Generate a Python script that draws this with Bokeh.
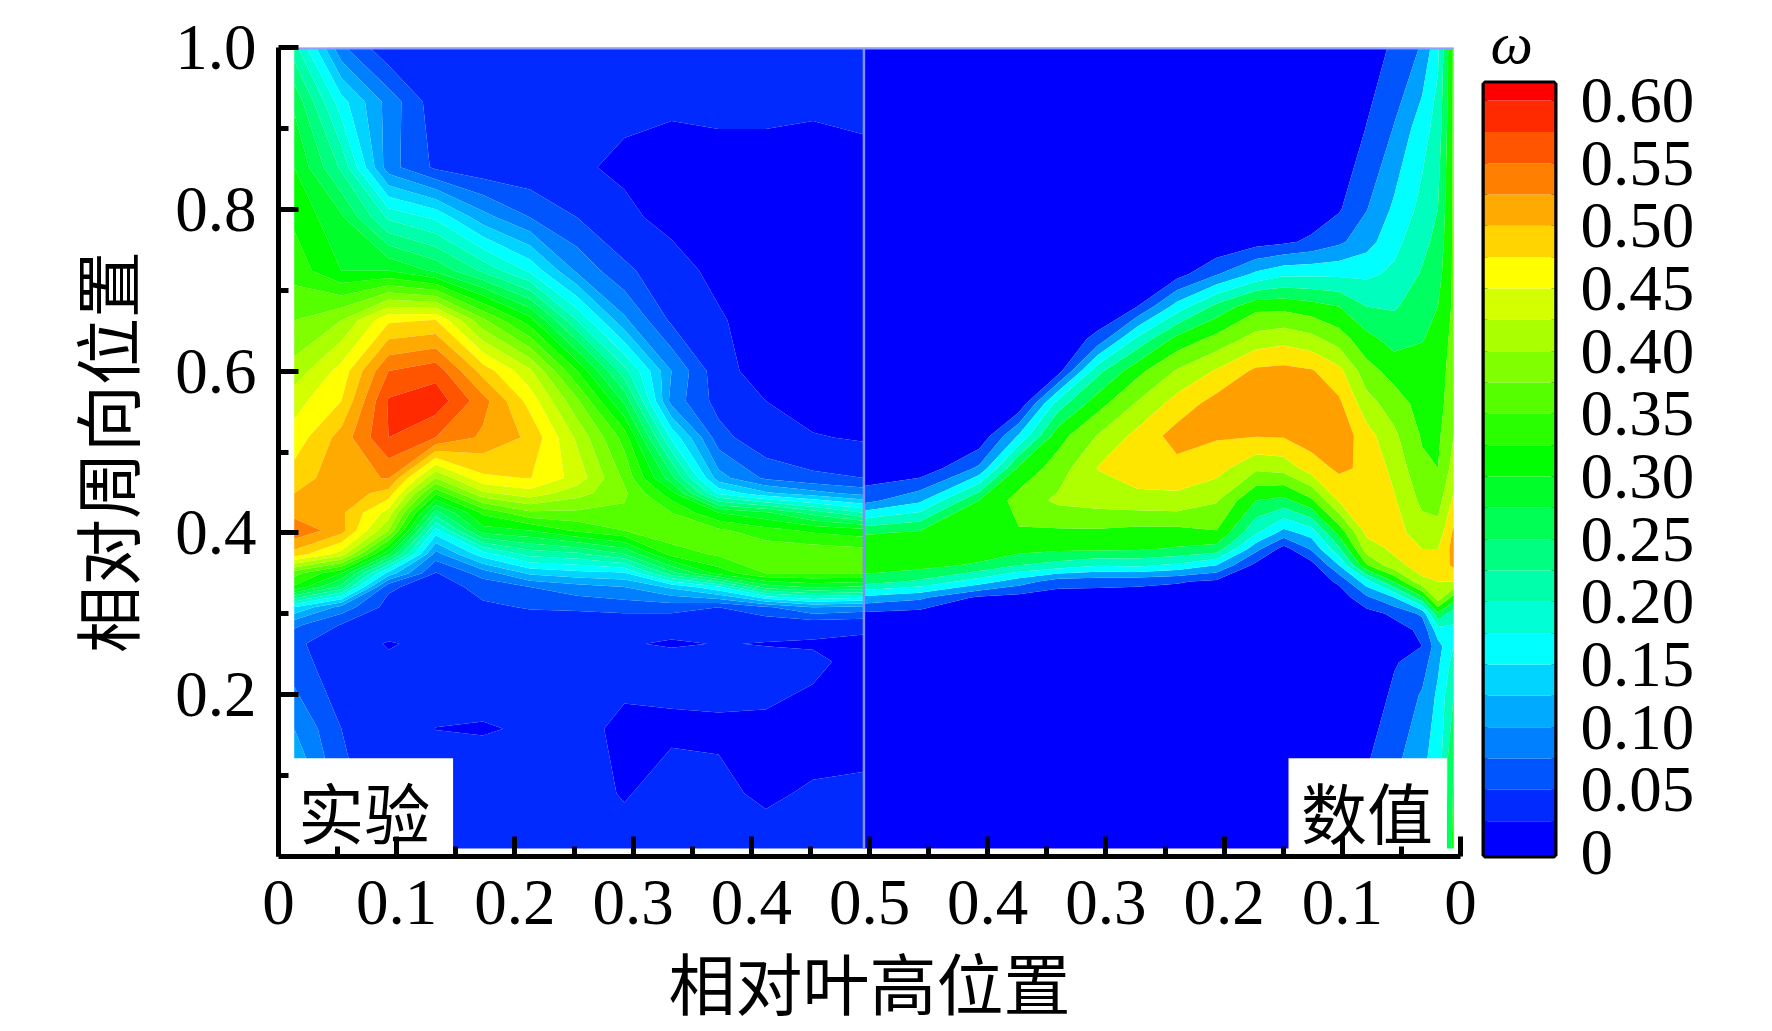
from bokeh.plotting import figure
from bokeh.layouts import row, column
from bokeh.models import FixedTicker, Range1d, Title
from bokeh.core.properties import value
from bokeh.embed import file_html
from bokeh.resources import INLINE
import numpy as np

# ---- experiment half (left) ----
exp_x = [.0133,.0532,.0931,.133,.173,.2128,.2527,.2926,.3325,.3724,.4123,.4522,.4953]
exp_y = [1.0,.933,.852,.79,.724,.663,.6,.563,.518,.468,.449,.425,.403,.374,.35,.333,.308,.286,.263,.241,.158,.078,.01]
exp_z = [
 [.21,.08,.03,.03,.03,.03,.03,.03,.03,.03,.03,.03,.03],
 [.27,.16,.09,.035,.03,.03,.03,.03,.03,.03,.03,.03,.03],
 [.30,.22,.085,.045,.032,.03,.028,.021,.013,.018,.018,.013,.02],
 [.32,.28,.195,.17,.11,.075,.05,.03,.018,.01,.008,.008,.008],
 [.34,.30,.30,.27,.22,.17,.095,.055,.035,.018,.01,.008,.008],
 [.375,.40,.47,.476,.38,.31,.20,.105,.045,.028,.012,.008,.008],
 [.41,.46,.55,.565,.49,.43,.325,.21,.10,.033,.015,.008,.008],
 [.44,.475,.578,.59,.535,.465,.38,.27,.09,.04,.025,.012,.01],
 [.46,.51,.575,.55,.52,.495,.42,.34,.17,.06,.03,.027,.022],
 [.487,.515,.527,.40,.47,.476,.44,.37,.26,.11,.07,.055,.05],
 [.50,.515,.49,.33,.42,.44,.41,.38,.31,.17,.13,.11,.09],
 [.515,.505,.44,.24,.33,.37,.37,.37,.35,.30,.28,.24,.20],
 [.545,.51,.40,.165,.29,.30,.33,.35,.37,.355,.335,.32,.31],
 [.49,.44,.28,.09,.165,.21,.22,.25,.335,.355,.37,.37,.365],
 [.36,.30,.14,.048,.085,.13,.14,.145,.24,.31,.35,.35,.35],
 [.32,.24,.055,.035,.06,.075,.09,.10,.13,.17,.26,.28,.27],
 [.15,.09,.04,.03,.045,.052,.055,.06,.06,.05,.07,.10,.09],
 [.08,.048,.035,.03,.03,.035,.03,.03,.03,.03,.03,.03,.028],
 [.055,.035,.0235,.03,.03,.03,.03,.0262,.0235,.0255,.0245,.0235,.022],
 [.06,.035,.028,.03,.03,.03,.03,.03,.03,.03,.028,.028,.02],
 [.10,.05,.03,.0249,.0244,.0258,.029,.022,.0229,.0234,.0238,.019,.015],
 [.15,.06,.03,.03,.03,.03,.03,.024,.03,.0274,.023,.0266,.03],
 [.18,.06,.03,.03,.03,.03,.03,.03,.03,.03,.03,.03,.03],
]
exp_levels = [0,.025,.05,.075,.1,.125,.15,.175,.2,.225,.25,.275,.3,.325,.35,.375,.4,.425,.45,.475,.5,.525,.55,.575,.6,.625]
exp_colors = ["#0000FF","#002AFF","#0055FF","#0080FF","#00AAFF","#00D4FF","#00FFFF","#00FFD4","#00FFAA","#00FF80","#00FF55","#00FF2A","#00FF00",
              "#2AFF00","#55FF00","#80FF00","#AAFF00","#D4FF00","#FFFF00","#FFD400","#FFAA00","#FF8000","#FF5500","#FF2A00","#FF0000"]

# ---- numerical half (right) ----
num_x = [.4953,.5426,.5928,.6262,.6597,.6931,.7266,.76,.7935,.827,.8504,.8738,.8972,.9206,.944,.9675,.9809,.9943]
num_y = [1.0,.9,.8,.76,.72,.68,.64,.6,.56,.52,.48,.44,.40,.38,.36,.34,.32,.30,.28,.26,.24,.2,.12,.01]
num_z = [
 [0,0,0,0,0,0,0,0,0,0,0,0,.005,.02,.06,.105,.19,.36],
 [0,0,0,0,0,0,0,0,0,0,0,.005,.01,.052,.103,.18,.22,.36],
 [0,0,0,0,0,0,0,0,0,.005,.01,.015,.045,.098,.16,.215,.25,.36],
 [0,0,0,0,0,0,0,.005,.005,.03,.04,.06,.09,.13,.185,.235,.265,.36],
 [0,0,0,0,0,0,.005,.03,.095,.16,.19,.19,.19,.19,.21,.255,.28,.36],
 [0,0,0,0,0,.005,.05,.17,.265,.335,.335,.32,.30,.25,.245,.275,.30,.36],
 [0,0,0,0,.01,.065,.21,.315,.365,.42,.433,.415,.375,.315,.28,.298,.31,.37],
 [0,0,0,0,.03,.235,.335,.405,.455,.51,.515,.505,.465,.37,.33,.315,.32,.38],
 [0,0,0,.01,.225,.33,.405,.47,.52,.535,.54,.54,.51,.42,.375,.33,.325,.39],
 [0,0,.01,.155,.33,.403,.465,.52,.505,.503,.505,.525,.535,.47,.41,.345,.34,.40],
 [.01,.012,.11,.31,.375,.452,.485,.485,.47,.41,.42,.475,.51,.49,.435,.36,.35,.42],
 [.083,.14,.30,.37,.41,.42,.43,.435,.405,.30,.285,.34,.455,.48,.455,.388,.38,.46],
 [.293,.31,.345,.345,.34,.34,.33,.33,.345,.205,.13,.17,.315,.46,.47,.425,.42,.51],
 [.345,.343,.34,.32,.31,.31,.305,.295,.28,.115,.03,.105,.24,.425,.46,.45,.45,.52],
 [.33,.32,.29,.25,.23,.205,.21,.19,.15,.035,.015,.03,.15,.345,.435,.47,.47,.51],
 [.275,.24,.175,.125,.075,.07,.065,.055,.04,.015,.01,.015,.06,.18,.305,.44,.45,.45],
 [.135,.11,.04,.03,.02,.02,.02,.02,.015,.01,.005,.01,.02,.09,.15,.29,.43,.33],
 [.04,.03,.005,.005,.005,.005,.005,.005,.005,.005,.005,.005,.01,.03,.06,.11,.29,.22],
 [.01,.005,0,0,0,0,0,0,0,0,0,0,.005,.01,.03,.06,.18,.19],
 [0,0,0,0,0,0,0,0,0,0,0,0,0,.005,.02,.05,.13,.2],
 [0,0,0,0,0,0,0,0,0,0,0,0,0,.005,.045,.075,.14,.22],
 [0,0,0,0,0,0,0,0,0,0,0,0,0,.01,.062,.105,.16,.25],
 [0,0,0,0,0,0,0,0,0,0,0,0,0,.045,.085,.14,.17,.30],
 [0,0,0,0,0,0,0,0,0,0,0,0,0,.045,.085,.14,.17,.32],
]
num_levels = [-.01,.05,.1,.15,.2,.25,.3,.35,.4,.45,.5,.55,.6]
num_colors = ["#0000FF","#0055FF","#00A0FF","#00FFFF","#00FFBF","#00FF60","#10FF00","#70FF00","#B0FF00","#FFE600","#FF9F00","#FF6000"]

# ---- axes and colour bar ----
x_ticks = [0,.1,.2,.3,.4,.5,.6,.7,.8,.9,1.0]
x_tick_labels = ["0","0.1","0.2","0.3","0.4","0.5","0.4","0.3","0.2","0.1","0"]
x_minor = [.05,.15,.25,.35,.45,.55,.65,.75,.85,.95]
y_ticks = [.2,.4,.6,.8,1.0]
y_tick_labels = ["0.2","0.4","0.6","0.8","1.0"]
y_minor = [.1,.3,.5,.7,.9]
cb_ticks = [0,.05,.1,.15,.2,.25,.3,.35,.4,.45,.5,.55,.6]
cb_tick_labels = ["0","0.05","0.10","0.15","0.20","0.25","0.30","0.35","0.40","0.45","0.50","0.55","0.60"]
x_title = "相对叶高位置"
y_title = "相对周向位置"
cb_title = "ω"

SERIF = "Liberation Serif"
CJK = "Noto Sans CJK SC"

p = figure(width=1480, height=1031, x_range=Range1d(0, 1), y_range=Range1d(0, 1),
           output_backend="svg", toolbar_location=None,
           min_border_left=278, min_border_right=20, min_border_top=47, min_border_bottom=175)
p.outline_line_color = None
p.grid.visible = False
p.background_fill_color = "white"

p.contour(exp_x, exp_y[::-1], np.array(exp_z)[::-1], exp_levels, fill_color=exp_colors, line_color=None)
p.contour(num_x, num_y[::-1], np.array(num_z)[::-1], num_levels, fill_color=num_colors, line_color=None)

# pale lines: divider and top edge
p.line([.4953, .4953], [.01, 1.0], line_color="#7F8FFF", line_width=2.5)
p.line([.0133, .9943], [.999, .999], line_color="#8FA0FF", line_width=2.5)

# white label boxes
p.quad(left=[.004, .8545], right=[.1477, .9885], bottom=[0, 0], top=[.1215, .1215],
       fill_color="white", line_color=None)
p.text(x=[.0725, .921], y=[.058, .058], text=["实验", "数值"], text_font=value(CJK),
       text_font_size="66px", text_align="center", text_baseline="middle", text_color="black")

for ax, tks, minor, labs in ((p.xaxis[0], x_ticks, x_minor, x_tick_labels), (p.yaxis[0], y_ticks, y_minor, y_tick_labels)):
    ax.ticker = FixedTicker(ticks=tks, minor_ticks=minor)
    ax.major_label_overrides = dict(zip(tks, labs))
    ax.major_label_text_font = SERIF
    ax.major_label_text_font_size = "65px"
    ax.major_label_text_color = "black"
    ax.axis_line_width = 5
    ax.axis_line_color = "black"
    ax.major_tick_line_width = 5
    ax.minor_tick_line_width = 5
    ax.major_tick_line_color = "black"
    ax.minor_tick_line_color = "black"
    ax.major_tick_in = 20
    ax.major_tick_out = 0
    ax.minor_tick_in = 10
    ax.minor_tick_out = 0
    ax.axis_label_text_font = CJK
    ax.axis_label_text_font_size = "67px"
    ax.axis_label_text_font_style = "normal"
    ax.axis_label_text_color = "black"
p.xaxis[0].major_label_standoff = 24
p.yaxis[0].major_label_standoff = 22
p.xaxis[0].axis_label = x_title
p.xaxis[0].axis_label_standoff = 5
p.yaxis[0].axis_label = y_title
p.yaxis[0].axis_label_standoff = 19
p.yaxis[0].major_label_orientation = "horizontal"

# colour bar
c = figure(width=284, height=1023, x_range=Range1d(0, 1), y_range=Range1d(-.0024, .6136),
           output_backend="svg", toolbar_location=None, y_axis_location="right",
           min_border_left=4, min_border_right=210, min_border_top=83, min_border_bottom=168)
c.grid.visible = False
c.xaxis.visible = False
band_low = exp_levels[:-1]
band_high = exp_levels[1:]
c.quad(left=0, right=1, bottom=[-.004] + band_low[1:], top=band_high, fill_color=exp_colors, line_color=None)
c.outline_line_color = "black"
c.outline_line_width = 6
ay = c.yaxis[0]
ay.ticker = FixedTicker(ticks=cb_ticks, minor_ticks=[])
ay.major_label_overrides = dict(zip(cb_ticks, cb_tick_labels))
ay.major_label_text_font = SERIF
ay.major_label_text_font_size = "65px"
ay.major_label_text_color = "black"
ay.axis_line_color = None
ay.major_tick_line_color = None
ay.major_tick_in = 0
ay.major_tick_out = 0
ay.major_label_standoff = 26
c.add_layout(Title(text=cb_title, text_font=SERIF, text_font_style="italic", text_font_size="60px",
                   align="left", offset=6, standoff=15, text_color="black"), "above")

open("out.html", "w").write(file_html(row(p, column(c), spacing=0), INLINE))
